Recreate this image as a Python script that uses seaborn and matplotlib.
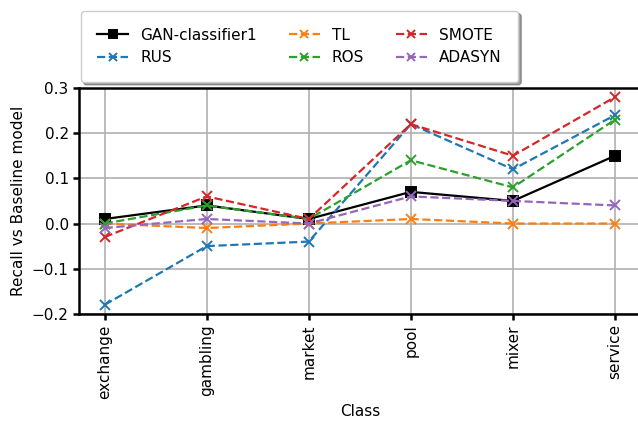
import matplotlib
matplotlib.use("Agg")
import matplotlib.pyplot as plt
import seaborn as sns
import pandas as pd

classes = ["exchange", "gambling", "market", "pool", "mixer", "service"]

gan_classifier1 = [0.01, 0.04, 0.01, 0.07, 0.05, 0.15]
rus = [-0.18, -0.05, -0.04, 0.22, 0.12, 0.24]
tl = [0.00, -0.01, 0.00, 0.01, 0.00, 0.00]
ros = [0.00, 0.04, 0.01, 0.14, 0.08, 0.23]
smote = [-0.03, 0.06, 0.01, 0.22, 0.15, 0.28]
adasyn = [-0.01, 0.01, 0.00, 0.06, 0.05, 0.04]

series = [
    ("GAN-classifier1", gan_classifier1, "black", "-", "s"),
    ("RUS", rus, "tab:blue", "--", "x"),
    ("TL", tl, "tab:orange", "--", "x"),
    ("ROS", ros, "tab:green", "--", "x"),
    ("SMOTE", smote, "tab:red", "--", "x"),
    ("ADASYN", adasyn, "tab:purple", "--", "x"),
]

plt.rcParams["font.family"] = ["DejaVu Sans"]
plt.rcParams["font.size"] = 11

fig = plt.figure(figsize=(6.38, 4.23), dpi=100)
ax = fig.add_axes([0.124, 0.258, 0.88, 0.534])

for name, vals, color, ls, mk in series:
    df = pd.DataFrame({"Class": classes, "value": vals})
    sns.lineplot(data=df, x="Class", y="value", ax=ax, color=color,
                 linestyle=ls, marker=mk, markersize=7 if mk == "s" else 6.5,
                 markeredgewidth=1.4, markeredgecolor=color,
                 markerfacecolor=color, linewidth=1.6, label=name, sort=False)

ax.set_ylim(-0.2, 0.3)
ax.set_yticks([-0.2, -0.1, 0.0, 0.1, 0.2, 0.3])
ax.set_xlabel("Class")
ax.set_ylabel("Recall vs Baseline model")
ax.grid(True, color="#b0b0b0", linewidth=1.2)
ax.set_axisbelow(True)
for lbl in ax.get_xticklabels():
    lbl.set_rotation(90)
for sp in ax.spines.values():
    sp.set_linewidth(1.8)
    sp.set_color("black")
ax.tick_params(width=1.8, length=4)

ax.legend_.remove()
handles, labels = ax.get_legend_handles_labels()
fig.legend(handles, labels, ncol=3, loc="lower left",
           bbox_to_anchor=(0.1145, 0.788), bbox_transform=fig.transFigure,
           shadow=True, fancybox=True, fontsize=11, frameon=True,
           borderpad=1.1, columnspacing=2.1, handletextpad=0.8,
           markerscale=0.9)

fig.savefig("out.png", dpi=100)
